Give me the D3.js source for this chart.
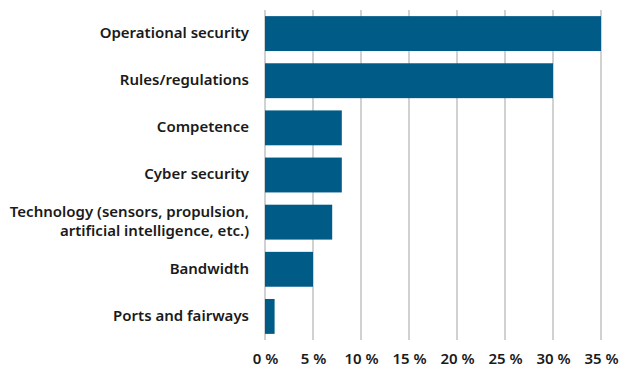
<!DOCTYPE html>
<html>
<head>
<meta charset="utf-8">
<script src="https://cdn.jsdelivr.net/npm/d3@7"></script>
<style>
  body { margin: 0; background: #fff; }
  svg { display: block; font-family: "Noto Sans", "Open Sans", sans-serif; }
</style>
</head>
<body>
<svg id="chart" width="620" height="367"></svg>
<script>
// Share of respondents naming each challenge (percent)
const categories = [
  ["Operational security"],
  ["Rules/regulations"],
  ["Competence"],
  ["Cyber security"],
  ["Technology (sensors, propulsion,", "artificial intelligence, etc.)"],
  ["Bandwidth"],
  ["Ports and fairways"]
];
const values = [35, 30, 8, 8, 7, 5, 1];
const tickValues = [0, 5, 10, 15, 20, 25, 30, 35];

const svg = d3.select("#chart");
const margin = { top: 10, right: 19, bottom: 27, left: 265 };
const width = 620 - margin.left - margin.right;
const height = 367 - margin.top - margin.bottom;

const g = svg.append("g").attr("transform", `translate(${margin.left},${margin.top})`);

const x = d3.scaleLinear().domain([0, 35]).range([0, width]);
const y = d3.scaleBand().domain(d3.range(categories.length)).range([0, height]).paddingInner(0.26).paddingOuter(0.13);

// vertical gridlines
g.selectAll("line.grid")
  .data(tickValues)
  .join("line")
  .attr("class", "grid")
  .attr("x1", d => x(d)).attr("x2", d => x(d))
  .attr("y1", 0).attr("y2", height)
  .attr("stroke", "#c6c6c6")
  .attr("stroke-width", 1.6);

// bars
g.selectAll("rect.bar")
  .data(values)
  .join("rect")
  .attr("class", "bar")
  .attr("x", x(0))
  .attr("y", (d, i) => y(i))
  .attr("width", d => x(d) - x(0))
  .attr("height", y.bandwidth())
  .attr("fill", "#005b87");

// category labels
const labels = g.selectAll("text.cat")
  .data(categories)
  .join("text")
  .attr("class", "cat")
  .attr("x", -16)
  .attr("text-anchor", "end")
  .attr("fill", "#1a1a1a")
  .attr("font-size", 15)
  .attr("font-weight", 600);

labels.each(function(lines, i) {
  const t = d3.select(this);
  const lh = 19;
  const cy = y(i) + y.bandwidth() / 2 - 1;
  lines.forEach((line, k) => {
    t.append("tspan")
      .attr("x", -16)
      .attr("y", cy + (k - (lines.length - 1) / 2) * lh)
      .attr("dy", "0.35em")
      .text(line);
  });
});

// x axis tick labels
const xAxis = d3.axisBottom(x)
  .tickValues(tickValues)
  .tickSize(0)
  .tickPadding(13)
  .tickFormat(d => `${d} %`);

const ax = g.append("g")
  .attr("transform", `translate(0,${height})`)
  .call(xAxis);
ax.select(".domain").remove();
ax.selectAll("text")
  .attr("font-family", "\"Noto Sans\", \"Open Sans\", sans-serif")
  .attr("font-size", 15)
  .attr("font-weight", 600)
  .attr("fill", "#1a1a1a");
</script>
</body>
</html>
